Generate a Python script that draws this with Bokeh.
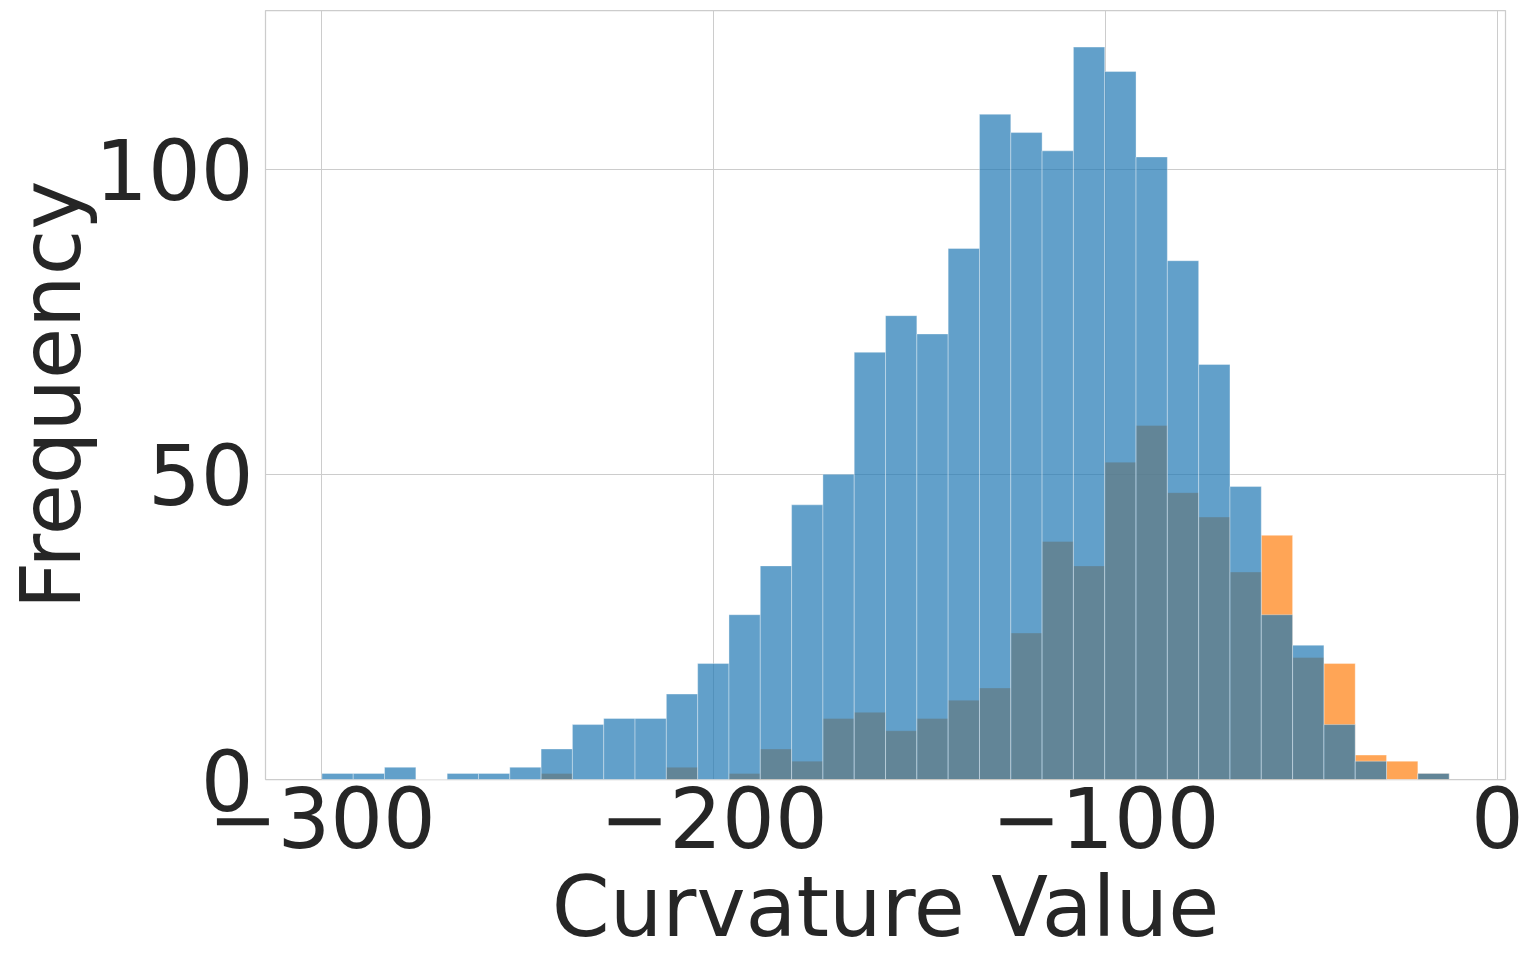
from bokeh.plotting import figure
from bokeh.models import ColumnDataSource, Range1d, FixedTicker
from bokeh.embed import file_html
from bokeh.resources import INLINE
import numpy as np

# ---- data ----
bin_min = -300.0
bin_max = -12.3
n_bins = 36
blue_counts = [1, 1, 2, 0, 1, 1, 2, 5, 9, 10, 10, 14, 19, 27, 35, 45, 50, 70,
               76, 73, 87, 109, 106, 103, 120, 116, 102, 85, 68, 48, 27, 22, 9, 3, 0, 1]
orange_counts = [0, 0, 0, 0, 0, 0, 0, 1, 0, 0, 0, 2, 0, 1, 5, 3, 10, 11,
                 8, 10, 13, 15, 24, 39, 35, 52, 58, 47, 43, 34, 40, 20, 19, 4, 3, 1]
x_ticks = [-300, -200, -100, 0]
x_tick_labels = ["\u2212300", "\u2212200", "\u2212100", "0"]
y_ticks = [0, 50, 100]
x_label = "Curvature Value"
y_label = "Frequency"

edges = np.linspace(bin_min, bin_max, n_bins + 1)
left = edges[:-1]
right = edges[1:]

FONT = "DejaVu Sans"
TXT = "#262626"
FS = "83px"

p = figure(width=1525, height=960, output_backend="svg", toolbar_location=None,
           x_range=Range1d(-314.4, 2.08), y_range=Range1d(0, 126),
           min_border_left=265, min_border_top=10, min_border_right=20,
           min_border_bottom=181)

src_o = ColumnDataSource(dict(left=left, right=right, top=orange_counts, bottom=[0] * n_bins))
src_b = ColumnDataSource(dict(left=left, right=right, top=blue_counts, bottom=[0] * n_bins))

p.quad(left="left", right="right", top="top", bottom="bottom", source=src_o,
       fill_color="#ff7f0e", fill_alpha=0.7, line_color="white", line_alpha=0.7, line_width=0.5)
p.quad(left="left", right="right", top="top", bottom="bottom", source=src_b,
       fill_color="#1f77b4", fill_alpha=0.7, line_color="white", line_alpha=0.7, line_width=0.5)

p.outline_line_color = "#cccccc"
p.outline_line_width = 1.25
p.background_fill_color = "white"
p.border_fill_color = "white"

for g in p.grid:
    g.grid_line_color = "#cccccc"
    g.grid_line_width = 1
p.xgrid.ticker = FixedTicker(ticks=x_ticks)
p.ygrid.ticker = FixedTicker(ticks=y_ticks)

p.xaxis.ticker = FixedTicker(ticks=x_ticks)
p.yaxis.ticker = FixedTicker(ticks=y_ticks)
p.xaxis.major_label_overrides = {float(t): l for t, l in zip(x_ticks, x_tick_labels)}

for ax in (p.xaxis[0], p.yaxis[0]):
    ax.axis_line_color = None
    ax.major_tick_line_color = None
    ax.minor_tick_line_color = None
    ax.major_tick_out = 0
    ax.major_tick_in = 0
    ax.major_label_text_font = FONT
    ax.major_label_text_font_size = FS
    ax.major_label_text_color = TXT
    ax.axis_label_text_font = FONT
    ax.axis_label_text_font_size = FS
    ax.axis_label_text_color = TXT
    ax.axis_label_text_font_style = "normal"

p.xaxis.axis_label = x_label
p.yaxis.axis_label = y_label
p.xaxis.major_label_standoff = 6
p.xaxis.axis_label_standoff = 8
p.yaxis.major_label_standoff = 12
p.yaxis.axis_label_standoff = -8

open("out.html", "w").write(file_html(p, INLINE))
